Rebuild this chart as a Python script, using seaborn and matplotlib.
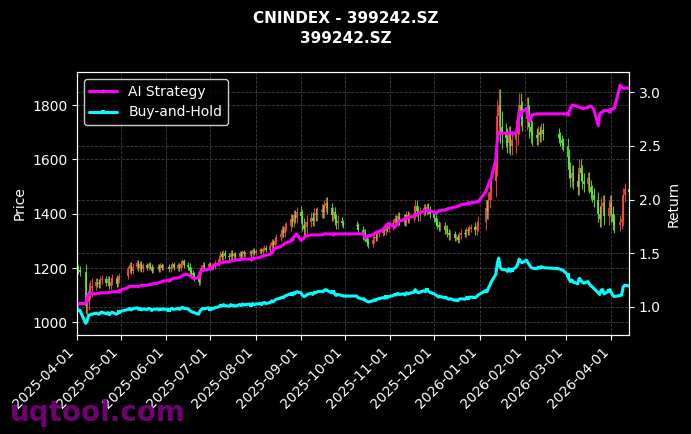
import pandas as pd
import matplotlib
matplotlib.use("Agg")
import matplotlib.pyplot as plt
import matplotlib.dates as mdates
import seaborn as sns


# trading calendar (SZSE holidays removed)
start_day = "2025-04-01"
holidays = ["2025-04-04", "2025-05-01", "2025-05-02", "2025-05-05", "2025-06-02",
            "2025-10-01", "2025-10-02", "2025-10-03", "2025-10-06", "2025-10-07",
            "2025-10-08", "2026-01-01", "2026-01-02", "2026-02-16", "2026-02-17",
            "2026-02-18", "2026-02-19", "2026-02-20", "2026-02-23", "2026-04-06"]

# daily closes, one row per week
closes = [
    1195, 1192, 1185,
    1060, 1075, 1115, 1125, 1135,
    1150, 1145, 1140, 1155, 1160,
    1145, 1160, 1135, 1150, 1165,
    1140, 1155, 1170,
    1195, 1210, 1190, 1205,
    1220, 1200, 1215, 1195, 1210,
    1200, 1215, 1205, 1190, 1200,
    1205, 1195, 1210, 1200, 1205,
    1195, 1205, 1215, 1200,
    1210, 1200, 1215, 1225, 1210,
    1205, 1190, 1180, 1175, 1165,
    1150, 1185, 1200, 1210, 1205,
    1215, 1200, 1210, 1205, 1220,
    1235, 1250, 1240, 1255, 1245,
    1240, 1255, 1245, 1250, 1240,
    1255, 1245, 1260, 1250, 1255,
    1260, 1250, 1265, 1255, 1262,
    1265, 1258, 1270, 1275, 1268,
    1280, 1295, 1285, 1300, 1315,
    1325, 1340, 1330, 1350, 1355,
    1380, 1370, 1395, 1385, 1405,
    1390, 1360, 1345, 1350, 1370,
    1385, 1375, 1400, 1395, 1405,
    1415, 1405, 1430, 1440, 1420,
    1395, 1405, 1380, 1365, 1375,
    1365, 1360,
    1355, 1340,
    1320, 1330, 1310, 1295, 1290,
    1305, 1315, 1310, 1325, 1330,
    1340, 1335, 1350, 1345, 1355,
    1365, 1380, 1370, 1390, 1375,
    1385, 1370, 1395, 1380, 1390,
    1400, 1430, 1410, 1395, 1405,
    1420, 1410, 1425, 1415, 1400,
    1385, 1370, 1360, 1350, 1355,
    1340, 1345, 1330, 1320, 1325,
    1310, 1315, 1305, 1320, 1330,
    1325, 1340, 1335, 1345, 1350,
    1340, 1355, 1370,
    1420, 1410, 1450, 1480, 1520,
    1600, 1760, 1800, 1720, 1700,
    1680, 1660, 1690, 1650, 1670,
    1700, 1740, 1800, 1770, 1750,
    1790, 1760, 1720, 1700, 1690,
    1680, 1700, 1690, 1710, 1695,
    1680, 1670, 1660, 1650,
    1610, 1560, 1530, 1550, 1520,
    1500, 1570, 1550, 1520, 1510,
    1530, 1500, 1480, 1470, 1450,
    1400, 1380, 1430, 1440, 1390,
    1420, 1440, 1400, 1370, 1360,
    1370, 1380, 1470, 1490,
    1480,
]

# typical shadow length beyond the candle body, one value per trading week
weekly_wick = [15, 30, 15, 12,
               10, 12, 10, 8, 8,
               8, 10, 12, 12, 8,
               12, 10, 8, 8, 8,
               12, 15, 18,
               25, 20, 22, 20,
               12, 12,
               15, 12, 12, 15, 15, 20, 15,
               15, 15, 12, 12, 20,
               30, 60, 35, 45, 40, 25,
               20,
               30, 30, 25, 30, 30,
               25, 15]

ai_strategy = [
    1.03, 1.03, 1.03,
    1.03, 1.09, 1.12, 1.12, 1.125,
    1.12, 1.125, 1.125, 1.13, 1.13,
    1.13, 1.13, 1.135, 1.135, 1.14,
    1.14, 1.145, 1.15,
    1.18, 1.19, 1.19, 1.19,
    1.19, 1.19, 1.195, 1.2, 1.2,
    1.2, 1.205, 1.21, 1.21, 1.215,
    1.22, 1.225, 1.23, 1.235, 1.24,
    1.245, 1.25, 1.26, 1.265,
    1.27, 1.275, 1.28, 1.29, 1.3,
    1.3, 1.29, 1.28, 1.27, 1.265,
    1.27, 1.32, 1.34, 1.34, 1.345,
    1.35, 1.36, 1.37, 1.38, 1.39,
    1.4, 1.41, 1.41, 1.415, 1.42,
    1.42, 1.425, 1.43, 1.43, 1.435,
    1.44, 1.44, 1.445, 1.445, 1.445,
    1.445, 1.45, 1.45, 1.45, 1.455,
    1.46, 1.47, 1.47, 1.48, 1.48,
    1.49, 1.5, 1.52, 1.54, 1.55,
    1.56, 1.57, 1.58, 1.59, 1.6,
    1.61, 1.63, 1.65, 1.66, 1.68,
    1.62, 1.63, 1.64, 1.66, 1.66,
    1.67, 1.67, 1.67, 1.67, 1.67,
    1.67, 1.675, 1.68, 1.68, 1.68,
    1.68, 1.68, 1.68, 1.68, 1.68,
    1.68, 1.68,
    1.68, 1.68,
    1.68, 1.67, 1.64, 1.65, 1.66,
    1.67, 1.68, 1.69, 1.7, 1.7,
    1.72, 1.74, 1.75, 1.77, 1.78,
    1.75, 1.74, 1.76, 1.78, 1.8,
    1.81, 1.82, 1.83, 1.83, 1.84,
    1.84, 1.85, 1.86, 1.87, 1.88,
    1.89, 1.9, 1.9, 1.9, 1.9,
    1.88, 1.87, 1.88, 1.89, 1.9,
    1.9, 1.91, 1.91, 1.92, 1.92,
    1.93, 1.93, 1.94, 1.94, 1.95,
    1.96, 1.96, 1.965, 1.97, 1.97,
    1.975, 1.98, 1.98,
    2.07, 2.1, 2.14, 2.18, 2.2,
    2.37, 2.55, 2.63, 2.62, 2.62,
    2.62, 2.61, 2.62, 2.63, 2.62,
    2.62, 2.7, 2.82, 2.78, 2.82,
    2.85, 2.8, 2.73, 2.76, 2.79,
    2.8, 2.8, 2.8, 2.8, 2.8,
    2.8, 2.8, 2.8, 2.8,
    2.8, 2.82, 2.85, 2.88, 2.88,
    2.87, 2.86, 2.86, 2.85, 2.85,
    2.86, 2.87, 2.87, 2.86, 2.84,
    2.69, 2.8, 2.81, 2.82, 2.83,
    2.83, 2.84, 2.84, 2.85, 2.85,
    3.07, 3.05, 3.04, 3.04,
    3.04,
]

buy_hold = [
    0.97, 0.97, 0.965,
    0.845, 0.87, 0.92, 0.925, 0.93,
    0.94, 0.935, 0.93, 0.945, 0.95,
    0.935, 0.945, 0.925, 0.94, 0.95,
    0.93, 0.94, 0.955,
    0.975, 0.985, 0.97, 0.98,
    0.99, 0.975, 0.985, 0.97, 0.98,
    0.975, 0.985, 0.98, 0.965, 0.975,
    0.98, 0.97, 0.98, 0.975, 0.98,
    0.97, 0.98, 0.985, 0.975,
    0.985, 0.975, 0.985, 0.995, 0.985,
    0.98, 0.965, 0.955, 0.95, 0.945,
    0.93, 0.96, 0.975, 0.985, 0.98,
    0.99, 0.975, 0.985, 0.98, 0.99,
    1.0, 1.015, 1.005, 1.02, 1.01,
    1.005, 1.02, 1.01, 1.015, 1.005,
    1.02, 1.01, 1.025, 1.015, 1.02,
    1.025, 1.015, 1.03, 1.02, 1.025,
    1.03, 1.02, 1.035, 1.04, 1.03,
    1.04, 1.055, 1.045, 1.06, 1.07,
    1.08, 1.09, 1.085, 1.1, 1.105,
    1.12, 1.115, 1.13, 1.125, 1.14,
    1.13, 1.105, 1.095, 1.1, 1.115,
    1.125, 1.115, 1.135, 1.13, 1.14,
    1.145, 1.14, 1.155, 1.16, 1.15,
    1.13, 1.14, 1.12, 1.105, 1.115,
    1.105, 1.1,
    1.1, 1.085,
    1.07, 1.075, 1.06, 1.05, 1.045,
    1.055, 1.065, 1.06, 1.07, 1.075,
    1.085, 1.08, 1.09, 1.085, 1.095,
    1.105, 1.115, 1.11, 1.125, 1.115,
    1.12, 1.11, 1.13, 1.12, 1.125,
    1.135, 1.16, 1.14, 1.13, 1.135,
    1.15, 1.14, 1.155, 1.145, 1.135,
    1.12, 1.11, 1.1, 1.09, 1.095,
    1.085, 1.09, 1.075, 1.07, 1.075,
    1.06, 1.065, 1.055, 1.07, 1.075,
    1.07, 1.085, 1.08, 1.09, 1.09,
    1.085, 1.095, 1.11,
    1.15, 1.14, 1.175, 1.2, 1.235,
    1.3, 1.4, 1.455, 1.37, 1.35,
    1.345, 1.33, 1.355, 1.33, 1.345,
    1.37, 1.4, 1.445, 1.42, 1.41,
    1.435, 1.41, 1.39, 1.37, 1.36,
    1.355, 1.37, 1.36, 1.375, 1.365,
    1.355, 1.35, 1.345, 1.34,
    1.3, 1.26, 1.235, 1.25, 1.23,
    1.215, 1.265, 1.25, 1.23, 1.22,
    1.235, 1.21, 1.195, 1.185, 1.17,
    1.13, 1.115, 1.155, 1.16, 1.12,
    1.145, 1.16, 1.13, 1.105, 1.095,
    1.105, 1.11, 1.185, 1.2,
    1.195,
]

first_open = 1190

n = min(len(closes), len(ai_strategy), len(buy_hold))
days = pd.bdate_range(start_day, periods=n + 40)
days = days[~days.isin(pd.to_datetime(holidays))][:n]

df = pd.DataFrame({"date": days, "close": closes[:n],
                   "AI Strategy": ai_strategy[:n], "Buy-and-Hold": buy_hold[:n]})
df["open"] = df["close"].shift(1).fillna(first_open)
week_idx = pd.factorize(df["date"].dt.to_period("W"))[0]
wick = pd.Series([weekly_wick[min(i, len(weekly_wick) - 1)] for i in week_idx])
df["high"] = df[["open", "close"]].max(axis=1) + wick
df["low"] = df[["open", "close"]].min(axis=1) - wick

plt.style.use("dark_background")
sns.set_style("dark", {"axes.facecolor": "black", "figure.facecolor": "black",
                       "axes.edgecolor": "white", "text.color": "white",
                       "axes.labelcolor": "white", "xtick.color": "white",
                       "ytick.color": "white", "xtick.bottom": True,
                       "ytick.left": True})
plt.rcParams["font.family"] = ["DejaVu Sans"]

fig, ax = plt.subplots(figsize=(6.91, 4.34), dpi=100)
fig.subplots_adjust(left=0.1114, right=0.9103, bottom=0.228, top=0.834)

# candles: red = up, green = down
up = df["close"] >= df["open"]
body_low = df[["open", "close"]].min(axis=1)
body_h = (df["close"] - df["open"]).abs().clip(lower=4)
for mask, col in ((up, "#ff4b3e"), (~up, "#5ef03a")):
    ax.vlines(df.loc[mask, "date"], df.loc[mask, "low"], df.loc[mask, "high"],
              color=col, linewidth=0.8, alpha=0.85)
    ax.bar(df.loc[mask, "date"], body_h[mask], bottom=body_low[mask], width=1.3,
           color=col, alpha=0.85, linewidth=0)

ax.set_ylim(953, 1922)
ax.set_ylabel("Price", fontsize=10)
ax.grid(True, color="gray", linestyle="--", linewidth=0.6, alpha=0.5)

ax2 = ax.twinx()
sns.lineplot(data=df, x="date", y="AI Strategy", ax=ax2, color="#ff00ff",
             linewidth=2.2, marker="o", markersize=3, markevery=20,
             markeredgewidth=0, label="AI Strategy")
sns.lineplot(data=df, x="date", y="Buy-and-Hold", ax=ax2, color="#00ffff",
             linewidth=2.2, marker="s", markersize=3, markevery=20,
             markeredgewidth=0, label="Buy-and-Hold")
ax2.set_ylim(0.736, 3.19)
ax2.set_ylabel("Return", fontsize=10)
ax2.grid(True, color="gray", linestyle="--", linewidth=0.6, alpha=0.5)
ax2.legend(loc="upper left", facecolor="black", edgecolor="white",
           framealpha=0.8, fontsize=10)

ax.set_xlim(df["date"].iloc[0], df["date"].iloc[-1])
ax.xaxis.set_major_locator(mdates.MonthLocator())
ax.xaxis.set_major_formatter(mdates.DateFormatter("%Y-%m-%d"))
plt.setp(ax.get_xticklabels(), rotation=45, ha="right", fontsize=10)
ax.set_xlabel("")
ax2.set_xlabel("")
for a in (ax, ax2):
    for s in a.spines.values():
        s.set_color("white")

fig.suptitle("CNINDEX - 399242.SZ\n399242.SZ", fontsize=11, fontweight="bold",
             color="white", y=0.975, linespacing=1.45)
fig.text(0.015, 0.03, "uqtool.com", fontsize=20, fontweight="bold",
         color="#800080", alpha=0.9)

fig.savefig("out.png", dpi=100, facecolor="black")
